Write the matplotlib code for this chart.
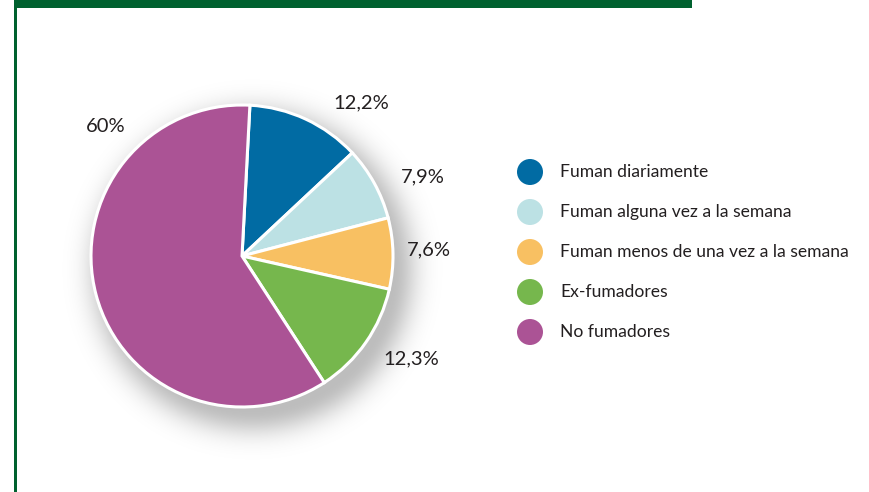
import numpy as np
import matplotlib.pyplot as plt
from matplotlib.patches import Circle, Rectangle

plt.rcParams['font.family'] = ['Lato', 'DejaVu Sans']

categories = ['Fuman diariamente', 'Fuman alguna vez a la semana',
              'Fuman menos de una vez a la semana', 'Ex-fumadores', 'No fumadores']
values = [12.2, 7.9, 7.6, 12.3, 60.0]
value_labels = ['12,2%', '7,9%', '7,6%', '12,3%', '60%']
colors = ['#016ba3', '#bce1e4', '#f8c062', '#76b74d', '#ab5395']

W, H = 869, 492
fig = plt.figure(figsize=(W / 100, H / 100), dpi=100)
ax = fig.add_axes([0, 0, 1, 1])

# frame
green = '#00612f'
ax.add_patch(Rectangle((14, H - 8), 678, 8, color=green, lw=0))
ax.add_patch(Rectangle((13.5, 0), 3, H, color=green, lw=0))

cx, cy, r = 242, H - 256, 151

# soft drop shadow (blurred disk drawn as an image)
gx, gy = np.meshgrid(np.arange(0, 500), np.arange(0, H))
d = np.hypot(gx - (cx + 10), gy - (cy - 14)) - r
shadow_alpha = 0.26 * np.exp(-(np.clip(d + 10, 0, None) / 24.0) ** 2)
shadow = np.zeros((H, 500, 4))
shadow[..., 3] = shadow_alpha
ax.imshow(shadow, extent=(0, 500, 0, H), origin='lower', zorder=1, interpolation='bilinear')

wedges, _ = ax.pie(values, colors=colors, startangle=87, counterclock=False,
                   center=(cx, cy), radius=r, frame=True,
                   wedgeprops=dict(edgecolor='white', linewidth=2.2))
for w in wedges:
    w.set_zorder(3)
ax.set_xlim(0, W)
ax.set_ylim(0, H)
ax.set_aspect('equal')
ax.axis('off')

# value labels
label_pos = [(361, 103), (423, 177), (429, 250), (411, 359), (106, 126)]
for txt, (x, y) in zip(value_labels, label_pos):
    ax.text(x, H - y, txt, fontsize=14.5, color='#231f20', ha='center', va='center')

# legend
for i, (cat, col) in enumerate(zip(categories, colors)):
    y = H - (172 + i * 40)
    ax.add_patch(Circle((530, y), 13, color=col, lw=0, zorder=3))
    ax.text(560, y, cat, fontsize=12.6, color='#231f20', ha='left', va='center')

fig.savefig('out.png', dpi=100)
